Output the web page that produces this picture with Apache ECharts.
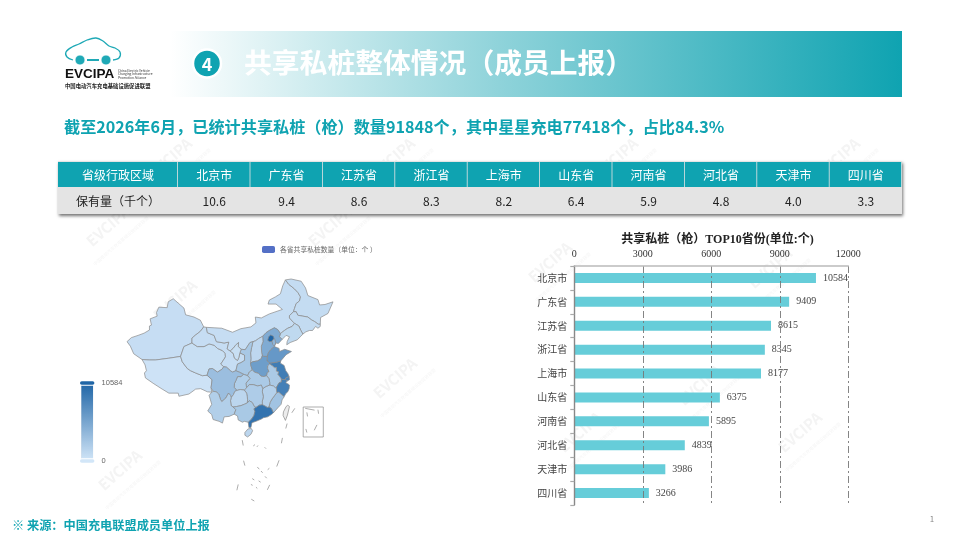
<!DOCTYPE html>
<html><head><meta charset="utf-8">
<style>html,body{margin:0;padding:0;background:#fff}#c{width:960px;height:540px}</style>
<script src="https://cdn.jsdelivr.net/npm/echarts@6/dist/echarts.min.js"></script>
</head><body><div id="c"></div>
<script>
// ---------- data ----------
var tableHeaders = ['省级行政区域','北京市','广东省','江苏省','浙江省','上海市','山东省','河南省','河北省','天津市','四川省'];
var tableValues = ['保有量（千个）','10.6','9.4','8.6','8.3','8.2','6.4','5.9','4.8','4.0','3.3'];
var topProvinces = ['北京市','广东省','江苏省','浙江省','上海市','山东省','河南省','河北省','天津市','四川省'];
var topCounts = [10584,9409,8615,8345,8177,6375,5895,4839,3986,3266];
var otherProvinces = ['湖北省','湖南省','安徽省','福建省','陕西省','重庆市','广西壮族自治区','云南省','贵州省','江西省','山西省','辽宁省','海南省','吉林省','黑龙江省','内蒙古自治区','甘肃省','宁夏回族自治区','青海省','新疆维吾尔自治区','西藏自治区'];
var otherCounts = [2300,2100,2300,2900,2500,2000,2400,1900,1300,1700,1200,1100,1300,900,800,700,700,600,600,700,300];

// simplified province outlines [lon,lat], shape data for the map projection
var outlines = {
'新疆维吾尔自治区':[[73.5,39.5],[74.8,40.4],[76.8,40.9],[78.6,41.4],[80.2,42.1],[80.2,43],[80.8,43.2],[80.4,44.6],[82.5,45.2],[82.3,46],[83,47.2],[85.5,47.1],[85.8,48.4],[87.3,49.1],[88.8,48.1],[90.5,47],[91,45.5],[93.5,45],[95.4,44.3],[96.4,42.8],[95.4,41.8],[94,41],[92.9,40.3],[92.9,39.2],[90.5,38.4],[89.5,36.2],[86,35.8],[82,35.4],[80.2,35.4],[78,35.5],[75.5,36.8],[74.5,38.5]],
'西藏自治区':[[78,35.5],[80.2,35.4],[82,35.4],[86,35.8],[89.5,36.2],[90,35],[91.5,33.5],[92.5,33],[94,32.5],[96,31.9],[97.4,32],[98.9,31],[98.6,29.2],[98.8,28.2],[97.5,28.3],[95.5,29],[94,28.9],[92,27.8],[89,27.3],[88.8,28],[86,28],[84,28.9],[81.3,30.2],[79,31.4],[78.7,32.5],[79.3,33],[78.9,34.3]],
'青海省':[[89.5,36.2],[90.5,38.4],[92.9,39.2],[94.5,38.4],[96.5,38.4],[98,39],[99.5,38.7],[100.5,38],[102,37.5],[102.8,36.9],[102.9,36.1],[102.3,35.4],[101.5,34.5],[102.4,33.9],[101.8,33.3],[100.5,32.7],[99,33.5],[98,33.4],[97.4,32],[96,31.9],[94,32.5],[92.5,33],[91.5,33.5],[90,35]],
'甘肃省':[[96.4,42.8],[97.2,42.7],[97.5,41.5],[99.5,40.9],[100.2,39.5],[102.5,39.2],[103.9,39.4],[103.4,37.9],[104.3,37.4],[105.2,36.9],[105.6,35.8],[106.5,35.3],[106.9,36],[107.2,37],[108.6,36.5],[108.6,35.3],[107.5,34.8],[106.5,34.5],[106,33],[105,32.7],[104.4,33],[103.2,33.8],[102.4,33.9],[101.5,34.5],[102.3,35.4],[102.9,36.1],[102.8,36.9],[102,37.5],[100.5,38],[99.5,38.7],[98,39],[96.5,38.4],[94.5,38.4],[92.9,39.2],[92.9,40.3],[94,41],[95.4,41.8]],
'内蒙古自治区':[[97.2,42.7],[99.5,42.6],[101.8,42.5],[105,41.6],[107.5,42.4],[110.5,42.8],[112,43.7],[111.8,45],[113.6,44.8],[116,45.7],[119.9,46.7],[118,47.9],[115.6,47.9],[116,48.8],[117.8,49.5],[119.3,50.2],[120,52],[120.8,53.3],[121.8,52.3],[123.5,51.3],[124.5,50.5],[125.3,49.5],[125,48.6],[124,48],[123.5,46.9],[123.2,46.2],[122,45.3],[122,44.8],[123.2,43.8],[123.5,43.6],[122.8,42.9],[121.5,42.5],[120.5,42],[119.3,41.3],[118.5,42.2],[117.5,42.6],[116,42],[115,41.5],[114,40.7],[113.9,40.5],[112.8,40.2],[111.9,39.7],[111.1,39.5],[110.2,39.3],[108.8,37.7],[107.6,37.8],[106.7,38.4],[106.8,39.3],[105.9,38.7],[105.2,38],[104.3,37.4],[103.4,37.9],[103.9,39.4],[102.5,39.2],[100.2,39.5],[99.5,40.9],[97.5,41.5]],
'黑龙江省':[[120.8,53.3],[122.5,53.5],[125.5,53],[126.8,51.5],[127.5,49.8],[130.5,48.9],[131,47.7],[132.6,47.8],[135,48.4],[133.5,45.8],[131.3,44.9],[131.2,43.4],[130.6,43.4],[129.5,44],[128.5,44.4],[127.5,45],[126,45.2],[124.5,45.4],[124,46.2],[123.2,46.2],[123.5,46.9],[124,48],[125,48.6],[125.3,49.5],[124.5,50.5],[123.5,51.3],[121.8,52.3]],
'吉林省':[[123.2,46.2],[124,46.2],[124.5,45.4],[126,45.2],[127.5,45],[128.5,44.4],[129.5,44],[130.6,43.4],[131.2,43.4],[131.2,42.9],[130.5,42.5],[129.8,42.9],[128.9,42],[128,42],[126.9,41.7],[126,41.2],[125.4,42],[124.8,43],[123.5,43.6],[123.2,43.8],[122,44.8],[122,45.3]],
'辽宁省':[[123.5,43.6],[122.8,42.9],[121.5,42.5],[120.5,42],[119.3,41.3],[119,40.6],[119.8,40],[121,40.9],[122,40.6],[121.3,39.5],[121.2,38.8],[122.2,39.3],[124.3,39.9],[125.4,40.7],[126,41.2],[125.4,42],[124.8,43]],
'河北省':[[119.8,40],[119,40.6],[119.3,41.3],[118.5,42.2],[117.5,42.6],[116,42],[115,41.5],[114,40.7],[114.1,39.5],[113.6,38.5],[113.7,37],[113.9,36.4],[114.3,36.2],[115.4,36.2],[115.7,37],[116.4,37.7],[117.5,38.4],[117.9,39.2],[118.7,39.1]],
'北京市':[[115.5,39.8],[116.1,39.5],[116.8,39.6],[117.4,40.2],[117.2,40.7],[116.4,41],[115.8,40.6]],
'天津市':[[116.8,39.6],[117.4,40.2],[117.7,39.9],[117.9,39.2],[117.5,38.5],[117,38.9]],
'山西省':[[114,40.7],[113.9,40.5],[112.8,40.2],[111.9,39.7],[111.1,39.5],[110.7,38.2],[110.4,37],[110.5,35.7],[110.4,34.7],[111,35],[112.5,35.2],[113.6,35.7],[113.9,36.4],[113.7,37],[113.6,38.5],[114.1,39.5]],
'陕西省':[[111.1,39.5],[110.7,38.2],[110.4,37],[110.5,35.7],[110.4,34.7],[110.4,34.4],[110.9,33.2],[110,32.7],[109.5,31.9],[108.3,32.2],[107,32.7],[106,33],[106.5,34.5],[107.5,34.8],[108.6,35.3],[108.6,36.5],[107.2,37],[107.6,37.8],[108.8,37.7],[110.2,39.3]],
'宁夏回族自治区':[[107.2,37],[106.9,36],[106.5,35.3],[105.6,35.8],[105.2,36.9],[104.3,37.4],[105.2,38],[105.9,38.7],[106.8,39.3],[106.7,38.4],[107.6,37.8]],
'山东省':[[115.4,36.2],[115.7,37],[116.4,37.7],[117.5,38.4],[118.9,38],[119,37.3],[120.6,37.8],[122.6,37.3],[121,36.6],[119.4,35.2],[118.3,34.9],[116.4,34.7],[116,34.8],[115.3,35.2]],
'河南省':[[114.3,36.2],[115.4,36.2],[115.3,35.2],[116,34.8],[116.1,34.5],[115.5,34.1],[115.5,33.5],[115.9,32.8],[115.4,32.6],[115.2,31.9],[114.4,31.7],[113.5,31.8],[112.8,32.4],[111.5,32.7],[110.9,33.2],[110.4,34.4],[110.4,34.7],[111,35],[112.5,35.2],[113.6,35.7],[113.9,36.4]],
'江苏省':[[116.4,34.7],[118.3,34.9],[119.4,35.2],[119.3,34.7],[120.4,34.2],[120.9,33],[121.5,32.4],[121.9,31.7],[120.9,31.4],[120.9,31],[120.3,31],[119.6,31.1],[119.2,31.6],[118.5,32.2],[118.8,32.7],[118.1,32.9],[118.1,33.7],[117.5,33.7],[116.9,34.1],[116.1,34.5],[116,34.8]],
'安徽省':[[115.5,33.5],[115.5,34.1],[116.1,34.5],[116.9,34.1],[117.5,33.7],[118.1,33.7],[118.1,32.9],[118.8,32.7],[118.5,32.2],[119.2,31.6],[119.6,31.1],[119.6,30.5],[118.9,30.3],[118.2,29.4],[118.1,29],[117.2,29.6],[116.1,29.8],[116.1,30.4],[115.9,31.2],[115.2,31.9],[115.4,32.6],[115.9,32.8]],
'上海市':[[120.9,31.4],[121.9,31.7],[122,31],[121.3,30.7],[120.9,31]],
'浙江省':[[118.2,28.1],[118.1,29],[118.2,29.4],[118.9,30.3],[119.6,30.5],[119.6,31.1],[120.3,31],[120.9,31],[121.3,30.7],[120.9,30.3],[121.7,30],[122,29.8],[121.9,29],[121.5,28.3],[120.9,27.9],[120.4,27.2],[119.6,27.7],[118.8,28.2]],
'福建省':[[115.9,24.9],[116.2,25.9],[116.8,26.7],[117.6,27.5],[118.2,28.1],[118.8,28.2],[119.6,27.7],[120.4,27.2],[119.8,26.5],[119.5,25.5],[118.5,24.7],[117.2,23.6],[116.6,24.6]],
'江西省':[[113.9,25.4],[114.5,25.2],[115.4,24.8],[115.9,24.9],[116.2,25.9],[116.8,26.7],[117.6,27.5],[118.2,28.1],[118.1,29],[117.2,29.6],[116.1,29.8],[115,29.5],[114,29],[113.9,28.3],[114.2,27.2],[113.9,26.2]],
'湖北省':[[109.5,31.9],[110,32.7],[110.9,33.2],[111.5,32.7],[112.8,32.4],[113.5,31.8],[114.4,31.7],[115.2,31.9],[115.9,31.2],[116.1,30.4],[116.1,29.8],[115,29.5],[114,29],[113.6,29.8],[112.5,29.6],[111.2,29.9],[110,29.9],[109.2,29.2],[109,30.2],[110.2,31.3]],
'湖南省':[[109.2,29.2],[110,29.9],[111.2,29.9],[112.5,29.6],[113.6,29.8],[114,29],[113.9,28.3],[114.2,27.2],[113.9,26.2],[113.9,25.4],[113,25.3],[112,24.8],[111.5,25],[110.9,25.9],[110,26.3],[109.4,25.8],[109.5,26.5],[109.4,27.2],[109.2,28],[108.5,28.7]],
'重庆市':[[108.3,32.2],[109.5,31.9],[110.2,31.3],[109,30.2],[109.2,29.2],[108.5,28.7],[107.3,28.8],[106.3,28.6],[105.5,29.3],[105.6,30.2],[106,30.8],[106.5,31.7],[107.5,31.7]],
'四川省':[[97.4,32],[98,33.4],[99,33.5],[100.5,32.7],[101.8,33.3],[102.4,33.9],[103.2,33.8],[104.4,33],[105,32.7],[106,33],[107,32.7],[108.3,32.2],[107.5,31.7],[106.5,31.7],[106,30.8],[105.6,30.2],[105.5,29.3],[106.3,28.6],[105.7,28.4],[105.3,27.7],[104.6,27],[104.4,27.5],[103.8,28],[103,26.9],[101.8,26.1],[101.4,26.6],[100.9,27.8],[100.1,28.3],[99.2,28.4],[98.6,29.2],[98.9,31]],
'贵州省':[[105.3,27.7],[105.7,28.4],[106.3,28.6],[107.3,28.8],[108.5,28.7],[109.2,28],[109.4,27.2],[109.5,26.5],[109.4,25.8],[108.5,25.5],[107.5,25.2],[106.2,25],[105.2,24.9],[104.6,25.2],[104.4,26.3],[104.6,27]],
'云南省':[[98.8,28.2],[99.2,28.4],[100.1,28.3],[100.9,27.8],[101.4,26.6],[101.8,26.1],[103,26.9],[103.8,28],[104.4,27.5],[104.6,27],[104.4,26.3],[104.6,25.2],[105.2,24.9],[106,24.3],[105.5,23.3],[104,22.8],[102.5,22.7],[102,21.3],[101,21.7],[99.2,22.1],[98.8,23.2],[97.6,24],[98.8,25.5],[98,27.5]],
'广西壮族自治区':[[105.2,24.9],[106.2,25],[107.5,25.2],[108.5,25.5],[109.4,25.8],[110,26.3],[110.9,25.9],[111.5,25],[112,24.8],[111.4,24.5],[111.7,23.9],[111.4,23],[110.7,22.2],[109.7,21.5],[108.5,21.7],[108,21.5],[106.7,22],[106.5,22.9],[105.5,23.3],[106,24.3]],
'广东省':[[111.4,23],[111.7,23.9],[111.4,24.5],[112,24.8],[113,25.3],[113.9,25.4],[114.5,25.2],[115.4,24.8],[115.9,24.9],[116.6,24.6],[117.2,23.6],[116.6,23.2],[115.5,22.7],[114.2,22.5],[113.6,22.2],[112,21.7],[110.8,21.4],[110.5,20.3],[109.9,20.3],[109.7,21.5],[110.7,22.2]],
'海南省':[[108.7,19.2],[109.6,20],[110.6,20.1],[111,19.6],[110.5,18.8],[109.5,18.2],[108.7,18.6]],
'台湾省':[[121.5,25.3],[122,25],[121.4,23.1],[120.8,21.9],[120.1,23],[120.2,23.8],[121,25]]
};
var seaDashes = [
[[107.9,17.5],[108.2,16.3]],[[108.3,12.9],[108.7,11.8]],[[106.7,7.6],[106.3,6.3]],[[110.6,4.3],[111.5,3.9]],[[115.4,6.4],[116.1,7.5]],[[118.2,11.6],[118.9,13]],[[119.6,16.8],[119.9,18]],[[120.9,20.1],[121.3,21.2]],[[122.7,23.6],[123.6,24.6]],
[[126.1,24.9],[132.1,24.9],[132.1,18.2],[126.1,18.2],[126.1,24.9]],
[[127.2,23.7],[127.4,22.8]],[[130.5,24.3],[130.7,23.4]],[[126.9,20],[127.2,19.2]],[[129.4,19.7],[130.2,20.9]],[[126.7,24.6],[129.5,24.2]],
[[111.2,16.2],[111.7,16.5]],[[112.3,16],[112.6,16.3]],[[114.6,15.9],[115,15.6]],[[112.4,11.5],[113,11]],[[113.5,10.6],[114,10.2]],[[110.9,8.9],[111.5,8.6]],[[112.8,8.4],[113.4,8.1]],[[114.7,9.4],[115.2,9]],[[112,7],[112.4,6.7]],[[110.5,7.6],[111,7.4]],[[115.5,10.9],[116,11.2]]
];
var geoFeatures = Object.keys(outlines).map(function(n){
  return {type:'Feature',properties:{name:n},geometry:{type:'Polygon',coordinates:[outlines[n]]}};
});
geoFeatures.push({type:'Feature',properties:{name:'南海诸岛'},geometry:{type:'MultiLineString',coordinates:seaDashes}});
echarts.registerMap('chinaLite',{type:'FeatureCollection',features:geoFeatures});

var mapData = topProvinces.map(function(n,i){return {name:n,value:topCounts[i]};})
  .concat(otherProvinces.map(function(n,i){return {name:n,value:otherCounts[i]};}));

// ---------- slide furniture ----------
var TEAL='#0fa3b1', CJK='"Noto Sans CJK SC","Noto Sans",sans-serif', SERIF='"Liberation Serif","Noto Sans CJK SC",serif';
var g=[];
function txt(x,y,s,size,color,weight,align,extra){
  var o={type:'text',x:x,y:y,z:extra&&extra.z||20,silent:true,style:{text:s,fontSize:size,fill:color,fontWeight:weight||'normal',fontFamily:(extra&&extra.font)||CJK,textAlign:align||'left',textVerticalAlign:'middle'}};
  if(extra&&extra.rotation){o.rotation=extra.rotation;}
  return o;
}
// watermarks
[[170,158],[393,158],[616,158],[838,158],[108,226],[330,226],[550,262],[770,268],[175,300],[395,378],[580,432],[800,432],[120,470],[700,385]].forEach(function(p){
  g.push(txt(p[0],p[1],'EVCIPA',15,'#f4f4f4','bold','center',{z:-1,rotation:0.72}));
  g.push(txt(p[0]+13,p[1]+15,'中国电动汽车充电基础设施促进联盟',4.5,'#f5f5f5','normal','center',{z:-1,rotation:0.72}));
});
// header band
g.push({type:'rect',z:10,silent:true,shape:{x:170,y:31,width:732,height:66},style:{fill:{type:'linear',x:0,y:0,x2:1,y2:0,colorStops:[{offset:0,color:'#ffffff'},{offset:0.45,color:'#8fd3da'},{offset:1,color:TEAL}]}}});
g.push({type:'circle',z:11,silent:true,shape:{cx:207,cy:63.5,r:14},style:{fill:TEAL,stroke:'#fff',lineWidth:2.5}});
g.push(txt(207,64,'4',18,'#fff','bold','center',{z:12}));
g.push(txt(244,62,'共享私桩整体情况（成员上报）',27.8,'#fff','bold','left',{z:12}));
// logo
g.push({type:'polyline',z:12,silent:true,shape:{smooth:0.35,points:[[73,60],[67,57],[66,52],[72,47],[79,44],[87,40],[96,38],[103,41],[109,46],[115,48],[120,52],[119,58],[113,60]]},style:{fill:'none',stroke:'#1fa9b6',lineWidth:1.3}});
g.push({type:'circle',z:12,silent:true,shape:{cx:80,cy:60,r:5},style:{fill:'#1fa9b6',stroke:'#fff',lineWidth:0.8}});
g.push({type:'circle',z:12,silent:true,shape:{cx:106,cy:60,r:5},style:{fill:'#1fa9b6',stroke:'#fff',lineWidth:0.8}});
g.push({type:'rect',z:12,silent:true,shape:{x:87,y:59,width:12,height:2},style:{fill:'#1fa9b6'}});
g.push(txt(65,74,'EVCIPA',13.5,'#111','bold','left',{z:12,font:'"Liberation Sans",sans-serif'}));
g.push(txt(118,70.5,'China Electric Vehicle',3.2,'#333','normal','left',{z:12}));
g.push(txt(118,74,'Charging Infrastructure',3.2,'#333','normal','left',{z:12}));
g.push(txt(118,77.5,'Promotion Alliance',3.2,'#333','normal','left',{z:12}));
g.push(txt(65,86,'中国电动汽车充电基础设施促进联盟',5.35,'#222','bold','left',{z:12}));
// subtitle
g.push(txt(64,127,'截至2026年6月，已统计共享私桩（枪）数量91848个，其中星星充电77418个，占比84.3%',16.15,TEAL,'bold','left',{z:12}));
// table
var colX=[58,178].concat(tableHeaders.slice(2).map(function(_,i){return 178+72.4*(i+1);})).concat([902]);
g.push({type:'rect',z:9,silent:true,shape:{x:58,y:161,width:844,height:53},style:{fill:'#e4e4e4',shadowBlur:3,shadowColor:'rgba(0,0,0,.55)',shadowOffsetX:1,shadowOffsetY:2}});
tableHeaders.forEach(function(h,i){
  var x0=colX[i],x1=colX[i+1];
  g.push({type:'rect',z:10,silent:true,shape:{x:x0,y:162,width:x1-x0-0.8,height:25},style:{fill:TEAL}});
  g.push({type:'rect',z:10,silent:true,shape:{x:x0,y:188,width:x1-x0-0.8,height:26},style:{fill:'#e4e4e4'}});
  g.push(txt((x0+x1)/2,175,h,12,'#fff','normal','center'));
  g.push(txt((x0+x1)/2,201,tableValues[i],12,'#222','normal','center'));
});
// footer
g.push(txt(12,525,'※ 来源：中国充电联盟成员单位上报',12.2,TEAL,'bold','left'));
g.push(txt(932,519,'1',8,'#888','normal','center'));

var chart=echarts.init(document.getElementById('c'),null,{renderer:'canvas'});
chart.setOption({
  animation:false,
  backgroundColor:'#fff',
  graphic:{elements:g},
  title:{text:'共享私桩（枪）TOP10省份(单位:个)',left:712.5,top:229,textAlign:'center',textStyle:{fontSize:12,fontWeight:'bold',color:'#222',fontFamily:SERIF}},
  legend:{left:257,top:241,itemWidth:13,itemHeight:7,itemGap:3,data:[{name:'各省共享私桩数量（单位：个 ）',itemStyle:{color:'#5470c6'}}],textStyle:{fontSize:6.8,color:'#666',fontFamily:CJK},selectedMode:false},
  visualMap:{type:'continuous',min:0,max:10584,left:64,top:364,itemWidth:12,itemHeight:78,calculable:true,seriesIndex:1,realtime:false,inRange:{color:['#d2e6f8','#1f65a6']},textStyle:{fontSize:7.5,color:'#666',fontFamily:'"Liberation Sans",sans-serif'},formatter:function(v){return Math.round(v);}},
  grid:{left:574.3,top:266,width:274,height:239},
  xAxis:{type:'value',z:5,position:'top',min:0,max:12000,interval:3000,axisLine:{show:true,lineStyle:{color:'#bbbbbb',width:1.6}},axisTick:{show:false},axisLabel:{fontSize:10,color:'#333',margin:7,fontFamily:SERIF,formatter:function(v){return String(v);}},splitLine:{show:true,lineStyle:{color:'#777',type:[7,3,2,3],width:0.9}}},
  yAxis:{type:'category',z:5,inverse:true,data:topProvinces,axisLine:{show:true,lineStyle:{color:'#888',width:1.4}},axisTick:{show:true,length:4,lineStyle:{color:'#aaa',width:1.2}},axisLabel:{fontSize:10,color:'#444',margin:7,fontFamily:CJK},splitLine:{show:false}},
  series:[
    {type:'bar',data:topCounts,barWidth:10,itemStyle:{color:'#66cdd9'},label:{show:true,position:'right',distance:7,fontSize:10,color:'#444',fontFamily:SERIF},silent:true},
    {type:'map',name:'各省共享私桩数量（单位：个 ）',map:'chinaLite',showLegendSymbol:false,left:127,top:279,width:206,height:222,aspectScale:0.75,data:mapData,label:{show:false},emphasis:{disabled:true},silent:true,itemStyle:{areaColor:'#ececec',borderColor:'#8a8a8a',borderWidth:0.7}}
  ]
});
</script></body></html>
